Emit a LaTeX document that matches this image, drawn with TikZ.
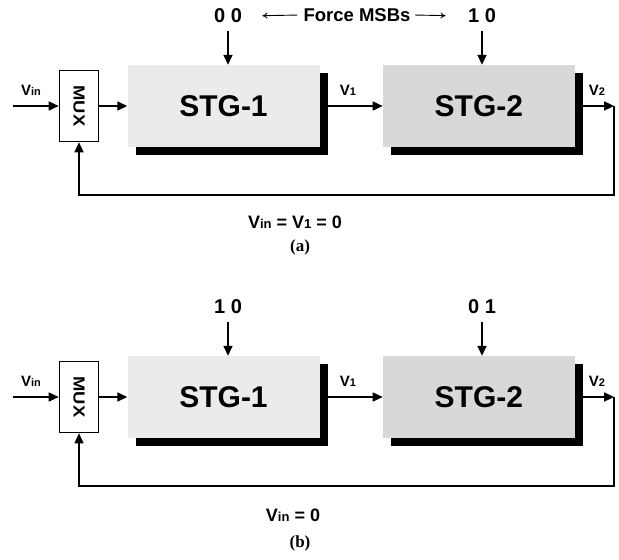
\documentclass[tikz,border=0pt]{standalone}
\usepackage{fontspec}
\setmainfont{Liberation Sans}
\newfontfamily\capfont{Liberation Serif}
\usetikzlibrary{arrows.meta,positioning,shadows}
\definecolor{stglight}{RGB}{235,235,235}
\definecolor{stgdark}{RGB}{216,216,216}
\newcommand{\Vs}[2][11pt]{V{\fontsize{#1}{#1}\selectfont #2}}

\begin{document}
\begin{tikzpicture}[x=1pt,y=-1pt,
    stgbox/.style={rectangle,minimum width=192pt,minimum height=82pt,inner sep=0pt,
                   font=\bfseries\fontsize{30}{30}\selectfont,
                   drop shadow={shadow xshift=8pt,shadow yshift=-8pt,fill=black,opacity=1}},
    muxbox/.style={rectangle,draw,fill=white,line width=1.6pt,minimum width=39pt,
                   minimum height=71pt,inner sep=0pt,font=\bfseries\fontsize{16}{16}\selectfont},
    bits/.style={font=\bfseries\fontsize{20}{20}\selectfont},
    vlab/.style={font=\bfseries\fontsize{15}{15}\selectfont},
    cond/.style={font=\bfseries\fontsize{18}{18}\selectfont},
    captext/.style={font=\capfont\bfseries\fontsize{17}{17}\selectfont},
    arr/.style={-{Triangle[length=10pt,width=9pt]},line width=1.6pt},
    thinarr/.style={-{To[length=5pt,width=6pt]},line width=0.9pt},
  ]
    \useasboundingbox (0,0) rectangle (619,560);

    % (a)
    \node[stgbox,fill=stglight] (stg1a) at (223.5,106) {STG-1};
    \node[stgbox,fill=stgdark,right=63pt of stg1a] (stg2a) {STG-2};
    \node[muxbox,left=28pt of stg1a] (muxa) {\rotatebox{-90}{\scalebox{1.15}[1]{MUX}}};
    \coordinate (ina) at (13,106);
    \coordinate[right=39pt of stg2a] (v2a);
    \node[vlab] (vina) at (31,90) {\Vs{in}};
    \node[vlab] (v1a) at (348,90) {\Vs{1}};
    \node[vlab] (v2labela) at (597,90) {\Vs{2}};
    \node[bits] (bit1a) at (228,16) {0 0};
    \node[bits] (bit2a) at (482,16) {1 0};
    \node[font=\bfseries\fontsize{18.5}{18.5}\selectfont] (forcea) at (357,15) {Force MSBs};
    \draw[arr] (ina) -- (muxa);
    \draw[arr] (muxa) -- (stg1a);
    \draw[arr] ([xshift=8pt]stg1a.east) -- (stg2a);
    \draw[arr] ([xshift=8pt]stg2a.east) -- (v2a);
    \draw[arr] (v2a) -- ++(0,89) -| (muxa);
    \draw[arr] ([yshift=-4pt]bit1a.south) -- (bit1a |- stg1a.north);
    \draw[arr] ([yshift=-4pt]bit2a.south) -- (bit2a |- stg2a.north);
    \draw[thinarr,shorten <=3pt,shorten >=17pt] (forcea.west) -- (bit1a.east);
    \draw[thinarr,shorten <=1pt,shorten >=19pt] (forcea.east) -- (bit2a.west);
    \node[cond] (conda) at (295,222) {\Vs[13pt]{in} = \Vs[13pt]{1} = 0};
    \node[captext] (capa) at (300,247) {(a)};

    % (b)
    \begin{scope}[yshift=-291pt]
      \node[stgbox,fill=stglight] (stg1b) at (223.5,106) {STG-1};
      \node[stgbox,fill=stgdark,right=63pt of stg1b] (stg2b) {STG-2};
      \node[muxbox,left=28pt of stg1b] (muxb) {\rotatebox{-90}{\scalebox{1.15}[1]{MUX}}};
      \coordinate (inb) at (13,106);
      \coordinate[right=39pt of stg2b] (v2b);
      \node[vlab] (vinb) at (31,90) {\Vs{in}};
      \node[vlab] (v1b) at (348,90) {\Vs{1}};
      \node[vlab] (v2labelb) at (597,90) {\Vs{2}};
      \node[bits] (bit1b) at (228,16) {1 0};
      \node[bits] (bit2b) at (482,16) {0 1};
      \draw[arr] (inb) -- (muxb);
      \draw[arr] (muxb) -- (stg1b);
      \draw[arr] ([xshift=8pt]stg1b.east) -- (stg2b);
      \draw[arr] ([xshift=8pt]stg2b.east) -- (v2b);
      \draw[arr] (v2b) -- ++(0,89) -| (muxb);
      \draw[arr] ([yshift=-4pt]bit1b.south) -- (bit1b |- stg1b.north);
      \draw[arr] ([yshift=-4pt]bit2b.south) -- (bit2b |- stg2b.north);
      \node[cond] (condb) at (293,224) {\Vs[13pt]{in} = 0};
      \node[captext] (capb) at (300,252) {(b)};
    \end{scope}
  \end{tikzpicture}
\end{document}
